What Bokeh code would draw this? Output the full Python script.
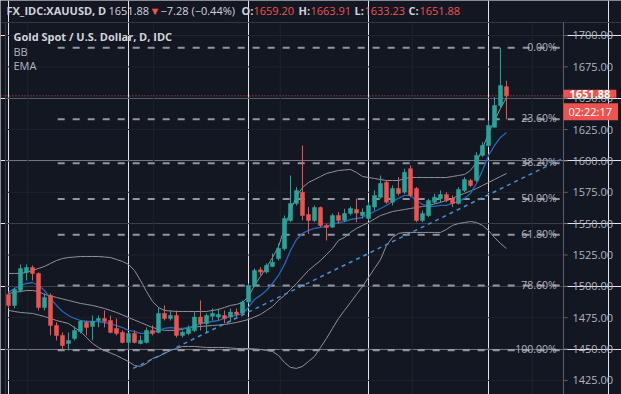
from bokeh.plotting import figure
from bokeh.models import ColumnDataSource, Label, Range1d
from bokeh.core.properties import value
from bokeh.embed import file_html
from bokeh.resources import INLINE

# ---------------- data ----------------
opens = [1493.6, 1484.8, 1496.8, 1511.1, 1515.1, 1510.3, 1483.2, 1492.8, 1468.9, 1460.9,
         1454.5, 1458.5, 1464.1, 1471.3, 1468.1, 1472.8, 1474.4, 1472.8, 1466.5, 1463.3,
         1455.3, 1462.5, 1454.5, 1455.3, 1464.9, 1463.3, 1478.4, 1474.4, 1476.8, 1460.9,
         1462.5, 1464.9, 1475.5, 1470.5, 1476.1, 1475.5, 1476.8, 1475.5, 1479.5, 1478.7,
         1487.5, 1500.7, 1513.2, 1511.4, 1515.9, 1522.2, 1530.2, 1552.6, 1566.1, 1575.1,
         1557.3, 1552.6, 1562.9, 1548.6, 1547.2, 1556.5, 1552.6, 1558.1, 1561.3, 1556.5,
         1554.1, 1563.2, 1571.1, 1583.1, 1567.1, 1578.1, 1575.1, 1593.8, 1578.1, 1552.6,
         1556.5, 1567.1, 1569.9, 1573.3, 1570.1, 1566.1, 1576.5, 1584.4, 1584.4, 1604.4,
         1612.3, 1626.9, 1644.2, 1659.2]
highs = [1495.2, 1499.1, 1517.5, 1517.5, 1516.7, 1511.1, 1494.4, 1494.4, 1471.3, 1463.3,
         1463.3, 1468.1, 1472.8, 1472.8, 1476.8, 1476.8, 1480.8, 1476.8, 1474.4, 1464.9,
         1463.3, 1464.9, 1460.9, 1467.3, 1468.9, 1483.2, 1484.8, 1480.8, 1480.8, 1464.9,
         1468.9, 1479.5, 1488.8, 1478.4, 1482.4, 1482.4, 1480.8, 1482.4, 1482.4, 1488.8,
         1502.3, 1514.3, 1515.3, 1518.3, 1526.2, 1534.2, 1556.5, 1588.4, 1579.1, 1612.3,
         1563.2, 1564.5, 1563.7, 1550.2, 1558.1, 1559.2, 1561.9, 1563.7, 1569.9, 1562.1,
         1567.1, 1576.5, 1588.4, 1584.4, 1580.5, 1587.1, 1593.8, 1596.4, 1579.1, 1560.5,
         1569.9, 1573.8, 1576.5, 1575.1, 1572.5, 1579.1, 1587.1, 1585.8, 1607.0, 1615.0,
         1632.3, 1650.8, 1690.2, 1663.91]
lows = [1482.4, 1482.4, 1495.2, 1504.7, 1504.7, 1480.8, 1480.8, 1460.9, 1456.9, 1448.9,
        1448.9, 1456.9, 1462.5, 1460.9, 1456.9, 1467.3, 1467.3, 1462.5, 1460.9, 1454.5,
        1450.5, 1454.5, 1453.8, 1454.5, 1460.9, 1462.5, 1472.8, 1472.8, 1459.3, 1459.3,
        1460.9, 1463.5, 1464.9, 1463.5, 1472.8, 1472.8, 1470.5, 1471.5, 1475.5, 1476.8,
        1486.4, 1499.4, 1508.7, 1510.3, 1515.3, 1520.7, 1528.6, 1551.2, 1564.5, 1552.6,
        1541.9, 1551.2, 1547.2, 1536.6, 1546.7, 1549.9, 1551.2, 1556.5, 1551.2, 1554.1,
        1552.6, 1560.5, 1569.9, 1565.9, 1564.5, 1572.5, 1573.8, 1571.1, 1551.2, 1551.2,
        1555.2, 1565.9, 1567.1, 1567.1, 1563.2, 1565.3, 1575.1, 1579.1, 1583.1, 1603.0,
        1611.0, 1626.4, 1641.8, 1633.23]
closes = [1484.8, 1497.6, 1514.3, 1515.1, 1510.3, 1483.2, 1491.2, 1468.9, 1460.9, 1452.9,
          1456.9, 1464.9, 1472.1, 1467.3, 1472.1, 1474.4, 1472.1, 1463.3, 1462.5, 1455.3,
          1462.5, 1455.3, 1456.9, 1464.9, 1462.5, 1478.4, 1474.4, 1476.8, 1460.9, 1463.5,
          1466.5, 1475.5, 1470.2, 1476.8, 1478.4, 1477.6, 1474.4, 1479.5, 1477.6, 1487.5,
          1500.7, 1512.7, 1511.4, 1516.7, 1519.3, 1530.2, 1554.1, 1566.1, 1576.5, 1556.5,
          1552.6, 1562.9, 1548.6, 1547.0, 1556.5, 1552.6, 1558.1, 1562.1, 1558.4, 1559.2,
          1564.5, 1572.5, 1582.0, 1567.1, 1578.1, 1574.1, 1591.0, 1572.5, 1552.6, 1558.1,
          1568.5, 1571.1, 1573.3, 1568.5, 1566.1, 1577.3, 1585.2, 1580.5, 1604.4, 1612.3,
          1628.3, 1644.2, 1660.2, 1651.88]

bb_upper = [1510.3, 1510.3, 1510.3, 1511.1, 1512.7, 1514.3, 1515.9, 1518.3, 1520.6, 1522.2,
            1523.0, 1523.4, 1523.8, 1523.8, 1523.8, 1523.8, 1523.4, 1523.0, 1521.4, 1519.9,
            1517.5, 1512.7, 1504.7, 1495.9, 1488.0, 1483.2, 1480.8, 1480.4, 1480.0, 1480.0,
            1480.0, 1480.0, 1480.0, 1480.0, 1480.8, 1481.6, 1483.2, 1484.8, 1485.6, 1487.2,
            1491.9, 1500.7, 1507.9, 1515.1, 1523.0, 1531.8, 1546.2, 1560.5, 1571.7, 1578.8,
            1582.8, 1585.2, 1587.6, 1590.0, 1591.2, 1592.4, 1592.8, 1593.2, 1590.8, 1587.6,
            1586.8, 1586.0, 1585.2, 1584.4, 1584.4, 1584.4, 1586.0, 1586.8, 1586.8, 1586.8,
            1586.8, 1586.8, 1586.8, 1586.8, 1587.6, 1588.4, 1589.2, 1592.4, 1598.8, 1609.9,
            1621.9, 1632.2, 1641.8, 1650.6]
bb_mid = [1494.3, 1495.2, 1495.9, 1496.7, 1496.7, 1495.9, 1493.6, 1492.4, 1491.2, 1490.0,
          1488.8, 1487.6, 1486.4, 1485.6, 1484.8, 1483.6, 1482.4, 1480.8, 1479.2, 1477.2,
          1475.2, 1473.2, 1471.2, 1469.2, 1467.2, 1466.0, 1464.9, 1464.9, 1464.9, 1465.7,
          1467.2, 1467.6, 1468.0, 1468.4, 1468.8, 1469.2, 1469.6, 1470.4, 1471.2, 1472.4,
          1473.6, 1475.6, 1477.6, 1480.8, 1484.0, 1488.8, 1492.8, 1497.5, 1502.3, 1507.5,
          1512.7, 1516.7, 1520.6, 1525.4, 1530.2, 1536.6, 1539.0, 1543.0, 1546.2, 1548.6,
          1550.9, 1553.7, 1556.5, 1558.1, 1559.7, 1560.5, 1561.3, 1562.1, 1562.9, 1563.7,
          1564.5, 1565.7, 1566.9, 1568.5, 1570.1, 1572.5, 1574.1, 1576.1, 1578.0, 1580.4,
          1582.8, 1585.2, 1587.6, 1590.0]
bb_lower = [1480.8, 1480.0, 1479.2, 1478.8, 1478.4, 1477.2, 1476.0, 1474.4, 1472.8, 1471.6,
            1470.4, 1467.2, 1464.1, 1459.3, 1454.5, 1451.3, 1448.9, 1446.9, 1444.9, 1442.5,
            1440.1, 1436.9, 1436.2, 1438.5, 1442.5, 1444.1, 1446.5, 1448.9, 1450.5, 1452.1,
            1452.1, 1452.1, 1451.7, 1451.3, 1451.3, 1451.3, 1451.3, 1450.9, 1450.5, 1450.5,
            1450.5, 1450.1, 1449.7, 1448.9, 1448.1, 1444.9, 1439.3, 1435.4, 1434.6, 1436.2,
            1440.1, 1444.1, 1451.3, 1458.5, 1466.5, 1474.4, 1480.8, 1487.2, 1493.6, 1499.9,
            1507.1, 1514.3, 1521.4, 1532.6, 1539.0, 1542.2, 1543.0, 1543.0, 1543.0, 1543.0,
            1543.0, 1543.0, 1543.0, 1545.4, 1548.6, 1550.1, 1550.9, 1551.7, 1550.9, 1548.6,
            1544.6, 1539.0, 1534.2, 1530.2]
ema = [1495.2, 1498.3, 1500.7, 1502.3, 1503.1, 1500.7, 1496.7, 1490.4, 1484.8, 1480.0,
       1476.8, 1474.4, 1472.8, 1472.0, 1472.0, 1472.0, 1471.2, 1470.4, 1468.8, 1467.2,
       1464.9, 1464.1, 1462.5, 1462.5, 1463.3, 1464.9, 1466.5, 1467.2, 1466.5, 1466.5,
       1467.2, 1468.8, 1470.4, 1471.2, 1472.0, 1472.8, 1474.4, 1476.0, 1476.8, 1478.4,
       1483.2, 1489.6, 1492.8, 1496.7, 1502.3, 1508.7, 1517.5, 1528.6, 1537.4, 1542.2,
       1544.6, 1546.2, 1547.0, 1547.8, 1549.4, 1550.9, 1551.7, 1553.3, 1554.1, 1554.9,
       1557.3, 1559.7, 1562.1, 1564.5, 1567.7, 1570.1, 1572.5, 1572.5, 1568.5, 1565.3,
       1563.7, 1563.7, 1564.5, 1564.5, 1566.1, 1567.7, 1570.1, 1574.1, 1582.0, 1592.4,
       1604.4, 1612.3, 1618.7, 1622.7]

trend_x = [20.8, 92.3]
trend_y = [1434.6, 1601.8]

fib_high = 1690.2
fib_low = 1449.0
fib_ratios = [0.0, 0.236, 0.382, 0.5, 0.618, 0.786, 1.0]
fib_labels = ["0.00%", "23.60%", "38.20%", "50.00%", "61.80%", "78.60%", "100.00%"]
fib_start = 8.2

y_ticks = [1425, 1450, 1475, 1500, 1525, 1550, 1575, 1600, 1625, 1650, 1675, 1700]
grid_x = [3.2, 24.2, 45.3, 67.3, 87.3]

last_price = 1651.88
countdown = "02:22:17"
symbol = "FX_IDC:XAUUSD, D"
change_text = "\u22127.28 (\u22120.44%)"
title_text = "Gold Spot / U.S. Dollar, D, IDC"
indicator_names = ["BB", "EMA"]

# ---------------- styling ----------------
BG = "#131722"
UP = "#26a69a"
DN = "#ef5350"
TXT = "#d1d4dc"
AX = "#b2b5be"
GRID = "#1f232e"
BAND = "#8f929a"
FONT = "Open Sans"

# price pane limits (index / price) and the scale-side area to its right
X_LO, X_HI = -0.5, 92.5          # pane in bar-index units
Y_LO, Y_HI = 1413.8, 1710.4      # pane in price units
X_MIN, X_MAX = -1.333, 102.17    # whole canvas
Y_MAX = 1727.9                   # top edge (header row)

n = len(opens)
idx = list(range(n))
colors = [UP if c >= o else DN for o, c in zip(opens, closes)]
src = ColumnDataSource(dict(
    x=idx, o=opens, h=highs, l=lows, c=closes,
    top=[max(o, c) for o, c in zip(opens, closes)],
    bot=[min(o, c) for o, c in zip(opens, closes)],
    col=colors,
))

W, H = 621, 394
p = figure(width=W, height=H, output_backend="svg", toolbar_location=None,
           x_range=Range1d(X_MIN, X_MAX), y_range=Range1d(Y_LO, Y_MAX),
           x_axis_location=None, y_axis_location=None)
p.min_border_left = 0
p.min_border_right = 0
p.min_border_top = 0
p.min_border_bottom = 0
p.background_fill_color = BG
p.border_fill_color = BG
p.outline_line_color = None

# ---- grid of the price pane ----
p.segment(x0=[X_LO] * len(y_ticks), y0=y_ticks, x1=[X_HI] * len(y_ticks), y1=y_ticks,
          line_color=GRID, line_width=1)
p.segment(x0=grid_x, y0=[Y_LO] * len(grid_x), x1=grid_x, y1=[Y_HI] * len(grid_x),
          line_color=GRID, line_width=1)
# pane border (top and left) and price-scale line
p.segment(x0=[X_MIN], y0=[Y_HI], x1=[X_MAX], y1=[Y_HI], line_color="#363a45", line_width=1)
p.segment(x0=[X_LO], y0=[Y_LO], x1=[X_LO], y1=[Y_HI], line_color="#363a45", line_width=1)
p.segment(x0=[X_HI], y0=[Y_LO], x1=[X_HI], y1=[Y_HI], line_color="#5d606b", line_width=1)

# ---- price scale (right) ----
tick_src = ColumnDataSource(dict(
    y=y_ticks, x0=[X_HI] * len(y_ticks), x1=[X_HI + 0.7] * len(y_ticks),
    xl=[X_HI + 1.5] * len(y_ticks), lab=[f"{t:.2f}" for t in y_ticks],
))
p.segment(x0="x0", y0="y", x1="x1", y1="y", source=tick_src, line_color="#5d606b")
p.text(x="xl", y="y", text="lab", source=tick_src, text_align="left",
       text_baseline="middle", text_color=AX, text_font=value(FONT),
       text_font_size="11px")

# ---- Fibonacci levels ----
fib_levels = [fib_high - r * (fib_high - fib_low) for r in fib_ratios]
fsrc = ColumnDataSource(dict(
    x0=[fib_start] * len(fib_levels), x1=[X_HI] * len(fib_levels),
    y=fib_levels, lab=fib_labels, xl=[91.35] * len(fib_levels),
))
p.segment(x0="x0", y0="y", x1="x1", y1="y", source=fsrc, line_color="#b2b5be",
          line_width=2, line_dash="7 8", line_alpha=0.8)
p.text(x="xl", y="y", text="lab", source=fsrc, text_align="right",
       text_baseline="alphabetic", y_offset=-1, text_color=AX,
       text_font=value(FONT), text_font_size="10.5px")

# ---- Bollinger bands and EMA ----
p.line(idx, bb_upper, line_color=BAND, line_width=1)
p.line(idx, bb_mid, line_color=BAND, line_width=1)
p.line(idx, bb_lower, line_color=BAND, line_width=1)
p.line(idx, ema, line_color="#2766b8", line_width=1.3)

# ---- trend line ----
p.line(trend_x, trend_y, line_color="#4a8fd6", line_width=1.5, line_dash="4 4")

# ---- last price line ----
p.segment(x0=[X_MIN], y0=[last_price], x1=[X_HI], y1=[last_price], line_color=DN,
          line_dash="1 2", line_width=1, line_alpha=0.9)

# ---- candles ----
p.segment(x0="x", y0="l", x1="x", y1="h", source=src, line_color="col", line_width=1)
p.vbar(x="x", top="top", bottom="bot", width=0.68, source=src,
       fill_color="col", line_color="col", line_width=0.5)

# ---- price / countdown tags on the scale ----
p.add_layout(Label(x=X_HI, y=last_price, y_offset=2, text=f"{last_price:.2f}",
                   text_color="white", text_font=FONT, text_font_size="11px",
                   text_baseline="middle", text_font_style="bold",
                   background_fill_color=DN,
                   padding=dict(left=6, right=6, top=0, bottom=0)))
p.add_layout(Label(x=X_HI, y=last_price, y_offset=-16, text=countdown,
                   text_color="white", text_font=FONT, text_font_size="11px",
                   text_baseline="middle", background_fill_color=DN,
                   padding=dict(left=5, right=6, top=1, bottom=1)))

# ---- texts ----
def slabel(x, y, text, color=TXT, bold=False, size="11px"):
    p.add_layout(Label(x=x, y=H - y, x_units="screen", y_units="screen", text=text,
                       text_color=color, text_font=FONT, text_font_size=size,
                       text_baseline="middle",
                       text_font_style="bold" if bold else "normal"))

slabel(13, 36, title_text, bold=True)
slabel(13, 51, indicator_names[0], color=AX)
slabel(13, 65, indicator_names[1], color=AX)

hy = 10
slabel(6, hy, symbol, bold=True)
slabel(108, hy, f"{last_price:.2f}")
slabel(149, hy, "\u25BC", color=DN, size="11px")
slabel(160, hy, change_text)
slabel(241, hy, "O:", bold=True)
slabel(253, hy, f"{opens[-1]:.2f}", color=DN)
slabel(298, hy, "H:", bold=True)
slabel(310, hy, f"{highs[-1]:.2f}", color=DN)
slabel(354, hy, "L:", bold=True)
slabel(364, hy, f"{lows[-1]:.2f}", color=DN)
slabel(408, hy, "C:", bold=True)
slabel(419, hy, f"{closes[-1]:.2f}", color=DN)

open("out.html", "w").write(file_html(p, INLINE))
